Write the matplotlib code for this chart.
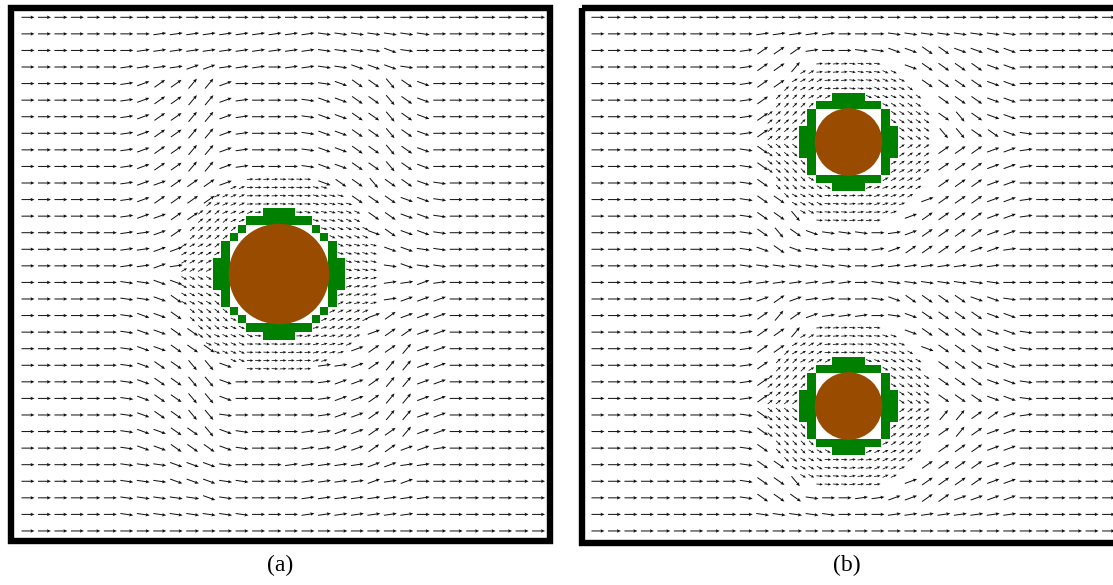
import numpy as np
import matplotlib.pyplot as plt
from matplotlib.patches import Rectangle, Circle

plt.rcParams['font.family'] = ['Liberation Serif', 'DejaVu Serif']

# Direction codes of the arrows, degrees (0 = to the right, + = upwards)
angle_code = {'-': 0, 'u': 8, 'U': 20, 'A': 35, 'N': 50,
              'd': -8, 'D': -20, 'V': -35, 'W': -50}

# Coarse grid of panel (a): one string per row (top to bottom), '.' = refined zone
rows_a = [
    "--------------------------------",
    "--------uuuuuuuuuuddddddd-------",
    "-------uuuuuuuuuuuddddDd--------",
    "------uuuuUUuuu-uuddDDDd--------",
    "------uUAANNU-----dDVVWVD-------",
    "------uUAANNUu---dDDVVWVD-------",
    "------uUAANNUu---dDDVVWVD-------",
    "------uUAANNUu---dDDVVWVD-------",
    "------uUAANNUu---dDDVVWVD-------",
    "------uUAANNUu---dDDVVWVD-------",
    "------uUUAAAU.....DVVWVVDd------",
    "------uUAAAA........VVVDDd------",
    "------uUUAA..........VVDDd------",
    "------uuUA...........DVDDd------",
    "------uuUU............DDdd------",
    "------uuUu............dDdd------",
    "------ddDD............uuUu------",
    "------ddDV............uUUU------",
    "------dDDV...........UAUUU------",
    "------dDDVV..........UAAUU------",
    "------dDDVVV........UAANUU------",
    "------dDVVWWD.....uuUANNUU------",
    "------dDVVWWD-----uUUANNUU------",
    "------dDVVWWD-----uUUANNUU------",
    "------dDVVWWd-----uUUANNUU------",
    "------dDDVVWDd---uuUUAANUU------",
    "------dDDVVVDd---uuUUAAUUu------",
    "------dddDDDd---uuuuuUUuu-------",
    "------dddDDDdd---uuuuUuU--------",
    "------dddddDd----uuuuuuuu-------",
    "------dddddddd---uuuuuuu--------",
    "--------------------------------",
]

# Coarse grid of panel (b), upper half; the lower half is its mirror image
rows_b_top = [
    "--------------------------------",
    "----------uuuuu---dddddddd------",
    "---------uAAAu--ddDDVVDDDD------",
    "---------uAAN......DVVVVDD------",
    "---------uAA........VVVVDD------",
    "---------uA..........VVVDD------",
    "---------uA..........VWVDD------",
    "---------uA..........WWVVDd-----",
    "---------dV..........AAAUUu-----",
    "---------dV..........AAAUUu-----",
    "---------dV..........AAAUU------",
    "---------dVV........UAAAUUu-----",
    "---------dVVW......UAAAAUUu-----",
    "---------dVWVDddd-uUAAAAUU------",
    "---------dDVDdd--uUAAAAUUu------",
    "---------ddddddd-uuuuuuuu-------",
]

# Refined zone arrows: direction in each 22.5 deg sector around the cylinder
# (sector 0 starts at +x and they go counter-clockwise)
fine_a = [-15, -25, -15, -3, 3, 25, 40, 30, -30, -40, -25, -3, 3, 15, 25, 15]
fine_b = [-35, -35, -25, -8, 5, 30, 45, 40, -40, -45, -30, -5, 5, 20, 30, 35]

# Green staircase cells, one octant, in fine-cell units from the cylinder centre
cells_a = [(0.5, 7.5), (1.5, 7.5), (0.5, 6.5), (1.5, 6.5), (2.5, 6.5), (3.5, 6.5), (4.5, 5.5)]
cells_b = [(0.5, 5.5), (1.5, 5.5), (0.5, 4.5), (1.5, 4.5), (2.5, 4.5), (3.5, 4.5)]

W, H = 1113, 585
fig = plt.figure(figsize=(W / 100, H / 100), dpi=100)
ax = fig.add_axes([0, 0, 1, 1])
ax.set_xlim(0, W)
ax.set_ylim(H, 0)
ax.axis('off')

gx, gy = 16.47, 16.57      # coarse spacing, px
y0 = 17.3
hf = 8.24                  # fine spacing, px
L_coarse, L_fine = 13.0, 6.5
qkw = dict(angles='xy', scale_units='xy', scale=1, pivot='mid', units='dots',
           color='#111111', zorder=4)


def coarse_arrows(rows, x0):
    X, Y, U, V = [], [], [], []
    for r, row in enumerate(rows):
        assert len(row) == 32, (r, len(row))
        for c, ch in enumerate(row):
            if ch == '.':
                continue
            a = np.radians(angle_code[ch])
            X.append(x0 + c * gx)
            Y.append(y0 + r * gy)
            U.append(L_coarse * np.cos(a))
            V.append(-L_coarse * np.sin(a))
    ax.quiver(X, Y, U, V, width=1.0, headwidth=3.5, headlength=4, headaxislength=3.5, **qkw)


def cylinder(cx, cy, cells, r_body, r_green, r_fine, sectors, flip=1):
    quarter = cells + [(b, a) for a, b in cells]
    for a, b in quarter:
        for sx in (-1, 1):
            for sy in (-1, 1):
                px = cx + sx * a * hf
                py = cy + sy * b * hf
                ax.add_patch(Rectangle((px - hf / 2, py - hf / 2), hf, hf,
                                       facecolor='#008000', edgecolor='none', zorder=2))
    ax.add_patch(Circle((cx, cy), r_body * hf, facecolor='#994c00', edgecolor='none', zorder=3))
    X, Y, U, V = [], [], [], []
    n = int(r_fine) + 1
    for i in range(-n, n):
        for j in range(-n, n):
            fx, fy = i + 0.5, j + 0.5
            d = np.hypot(fx, fy)
            if d <= r_green or d >= r_fine:
                continue
            phi = np.degrees(np.arctan2(-fy * flip, fx)) % 360
            a = np.radians(flip * sectors[int(phi // 22.5)])
            X.append(cx + fx * hf)
            Y.append(cy + fy * hf)
            U.append(L_fine * np.cos(a))
            V.append(-L_fine * np.sin(a))
    ax.quiver(X, Y, U, V, width=0.8, headwidth=3.5, headlength=4, headaxislength=3.5, **qkw)


# panel (a)
coarse_arrows(rows_a, 28.0)
cylinder(279, 274, cells_a, 6.1, 7.7, 12.2, fine_a)
ax.add_patch(Rectangle((10.5, 7.5), 539.5, 533, fill=False, edgecolor='black', lw=4.6, zorder=5))
ax.text(280, 565, '(a)', ha='center', va='center', fontsize=17)

# panel (b)
rows_b = rows_b_top + [row.translate(str.maketrans('uUANdDVW', 'dDVWuUAN')) for row in rows_b_top[::-1]]
coarse_arrows(rows_b, 598.0)
cylinder(848.5, 142, cells_b, 4.1, 5.8, 10.4, fine_b)
cylinder(848.5, 406, cells_b, 4.1, 5.8, 10.4, fine_b, flip=-1)
ax.add_patch(Rectangle((582, 7.5), 539.5, 535.5, fill=False, edgecolor='black', lw=4.6, zorder=5))
ax.text(847, 565, '(b)', ha='center', va='center', fontsize=17)

fig.savefig('out.png', dpi=100)
